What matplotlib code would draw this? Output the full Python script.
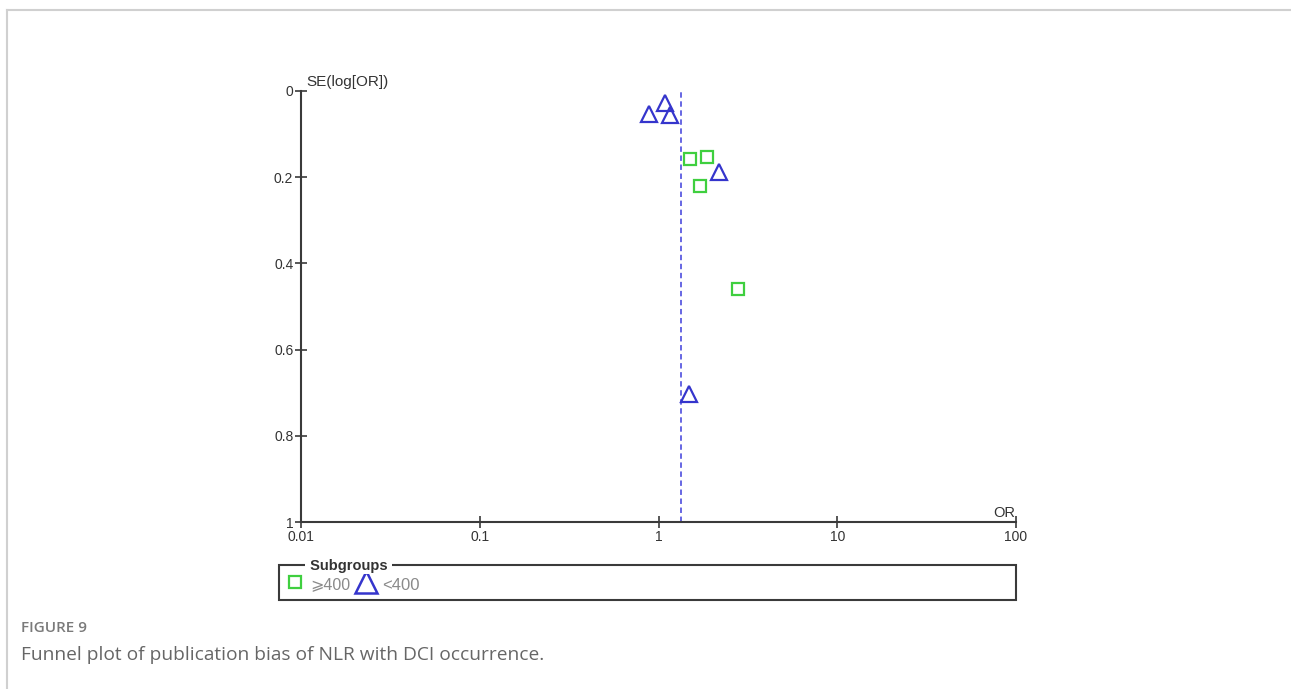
import numpy as np
import matplotlib
matplotlib.use("Agg")
import matplotlib.pyplot as plt
from matplotlib.patches import Rectangle

# ---- data ----------------------------------------------------------------
# subgroup >=400 (green squares)
or_large = [1.50, 1.87, 1.71, 2.78]
se_large = [0.158, 0.153, 0.220, 0.459]
# subgroup <400 (blue triangles)
or_small = [1.09, 0.89, 1.16, 2.18, 1.48]
se_small = [0.029, 0.053, 0.056, 0.188, 0.703]
pooled_or = 1.34

x_ticks = [0.01, 0.1, 1, 10, 100]
x_labels = ["0.01", "0.1", "1", "10", "100"]
y_ticks = [0, 0.2, 0.4, 0.6, 0.8, 1]
y_labels = ["0", "0.2", "0.4", "0.6", "0.8", "1"]

GREEN = "#3fcf3f"
BLUE = "#3535cc"
DASH = "#5a5ae0"
AXC = "#3a3a3a"

W, H = 1291, 689
plt.rcParams["font.family"] = ["Liberation Sans", "DejaVu Sans"]
fig = plt.figure(figsize=(W / 100, H / 100), dpi=100)


def fx(px):
    return px / W


def fy(py):
    return 1 - py / H


ax = fig.add_axes([fx(301), fy(522), fx(1016) - fx(301), fy(91) - fy(522)])
ax.set_xscale("log")
ax.set_xlim(0.01, 100)
ax.set_ylim(1, 0)

ax.axvline(pooled_or, color=DASH, lw=1.3, ls=(0, (3, 2)), zorder=1)
ax.plot(or_large, se_large, ls="none", marker="s", ms=8.5, mfc="none",
        mec=GREEN, mew=1.6, zorder=3)
ax.plot(or_small, se_small, ls="none", marker="^", ms=11.5, mfc="none",
        mec=BLUE, mew=1.6, zorder=3)

for s in ["top", "right"]:
    ax.spines[s].set_visible(False)
for s in ["left", "bottom"]:
    ax.spines[s].set_color(AXC)
    ax.spines[s].set_linewidth(1.5)

ax.set_xticks(x_ticks)
ax.set_xticklabels(x_labels)
ax.set_yticks(y_ticks)
ax.set_yticklabels(y_labels)
ax.minorticks_off()
ax.tick_params(axis="both", direction="inout", length=9, width=1.2,
               color=AXC, labelsize=10, labelcolor="#333333")
ax.tick_params(axis="x", pad=1)
ax.tick_params(axis="y", pad=1)

fig.text(fx(306), fy(82), "SE(log[OR])", fontsize=11, color="#333333",
         ha="left", va="center")
fig.text(fx(1004), fy(513), "OR", fontsize=10.5, color="#333333",
         ha="center", va="center")

# ---- overlay for legend box, caption and page frame ---------------------
ov = fig.add_axes([0, 0, 1, 1], zorder=-1)
ov.set_xlim(0, W)
ov.set_ylim(H, 0)
ov.axis("off")

ov.plot([7, W], [10, 10], color="#d0d0d0", lw=1.5)
ov.plot([7, 7], [10, H], color="#d0d0d0", lw=1.5)

ov.add_patch(Rectangle((279, 565), 1016 - 279, 35, fill=False,
                       ec=AXC, lw=1.5))
ov.text(306, 566, " Subgroups ", fontsize=10.5, fontweight="bold",
        color="#333333", ha="left", va="center",
        bbox=dict(fc="white", ec="none", pad=0.5))
ov.plot([295], [582], marker="s", ms=9, mfc="none", mec=GREEN, mew=1.6)
ov.text(310, 585, "⩾400", fontsize=11.5, color="#8a8a8a",
        ha="left", va="center")
ov.plot([366], [582], marker="^", ms=16, mfc="none", mec=BLUE, mew=1.8)
ov.text(382, 586, "<400", fontsize=12, color="#8a8a8a",
        ha="left", va="center")

ov.text(21, 628, "FIGURE 9", fontsize=11, color="#7a7a7a", fontweight="semibold",
        family=["Open Sans", "DejaVu Sans"], ha="left", va="center")
ov.text(21, 655, "Funnel plot of publication bias of NLR with DCI occurrence.",
        fontsize=13.8, color="#666666", family=["Open Sans", "DejaVu Sans"],
        ha="left", va="center")

fig.savefig("out.png", dpi=100)
